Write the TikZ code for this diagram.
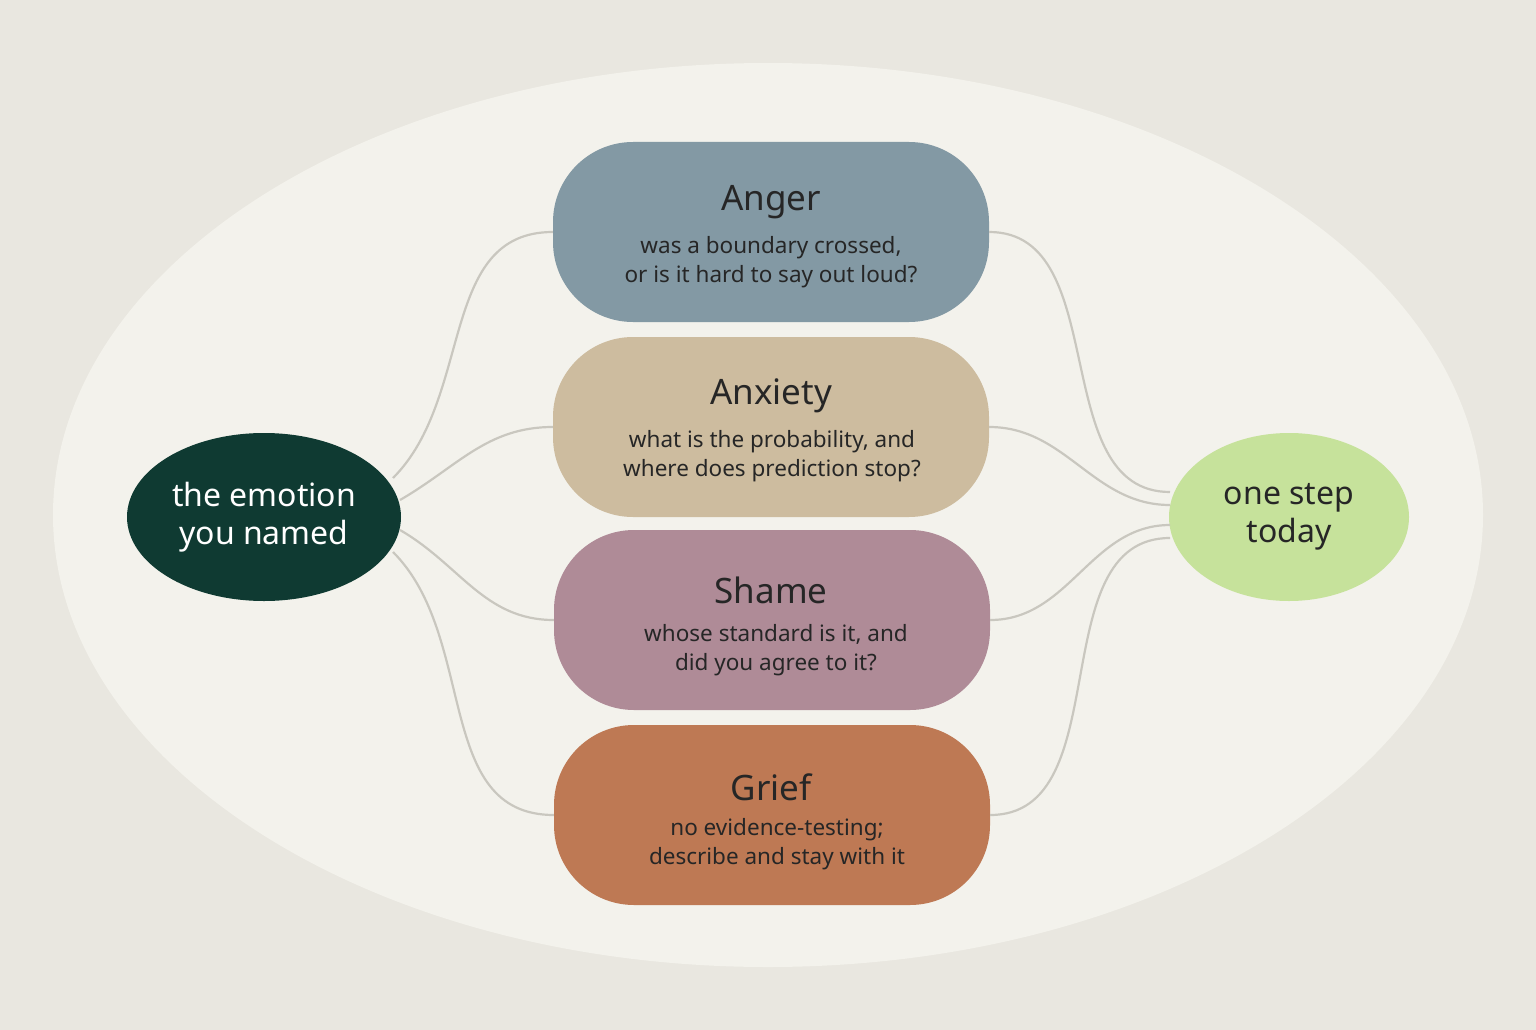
\documentclass[tikz,border=0pt]{standalone}
\usepackage{fontspec}
\setmainfont{Noto Sans}
\usetikzlibrary{shapes.geometric}
\definecolor{bg}{HTML}{E9E7E0}
\definecolor{oval}{HTML}{F3F2EC}
\definecolor{link}{HTML}{C9C7BF}
\definecolor{cAnger}{HTML}{8399A4}
\definecolor{cAnx}{HTML}{CDBC9F}
\definecolor{cShame}{HTML}{AF8B97}
\definecolor{cGrief}{HTML}{BE7954}
\definecolor{cLeft}{HTML}{0F3A32}
\definecolor{cRight}{HTML}{C6E29B}
\begin{document}
\begin{tikzpicture}[x=1pt,y=-1pt,
  pill/.style={rounded corners=80pt,minimum width=436pt,minimum height=180pt,inner sep=0pt},
  ttl/.style={font=\fontsize{35}{40}\selectfont,text=black!85},
  sub/.style={font=\fontsize{22.5}{29}\selectfont,align=center,text=black!85},
  link/.style={draw=link,line width=2.2pt}]
\fill[bg] (0,0) rectangle (1536,1030);
\useasboundingbox (0,0) rectangle (1536,1030);
\fill[oval] (768,515) ellipse [x radius=715pt,y radius=452pt];
\node[pill,fill=cAnger] (anger) at (771,232) {};
\node[pill,fill=cAnx] (anx) at (771,427) {};
\node[pill,fill=cShame] (shame) at (772,620) {};
\node[pill,fill=cGrief] (grief) at (772,815) {};
\node[ellipse,fill=cLeft,minimum width=274pt,minimum height=168pt,inner sep=0pt,text=white,align=center,font=\fontsize{32}{38}\selectfont] (left) at (264,517) {the emotion\\you named};
\node[ellipse,fill=cRight,minimum width=240pt,minimum height=168pt,inner sep=0pt,text=black!85,align=center,font=\fontsize{32}{38}\selectfont] (right) at (1289,517) {one step\\today};
\coordinate (l1) at (393,478); \coordinate (l2) at (400,500);
\coordinate (l3) at (400,530); \coordinate (l4) at (393,552);
\coordinate (r1) at (1170,492); \coordinate (r2) at (1170,505);
\coordinate (r3) at (1170,525); \coordinate (r4) at (1170,538);
\draw[link] (l1) to[out=45,in=180] (anger.west);
\draw[link] (l2) to[out=30,in=180] (anx.west);
\draw[link] (l3) to[out=-30,in=180] (shame.west);
\draw[link] (l4) to[out=-45,in=180] (grief.west);
\draw[link] (anger.east) to[out=0,in=180] (r1);
\draw[link] (anx.east) to[out=0,in=180] (r2);
\draw[link] (shame.east) to[out=0,in=180] (r3);
\draw[link] (grief.east) to[out=0,in=180] (r4);
\node[ttl] (t1) at (771,202) {Anger};
\node[sub] (s1) at (771,262) {was a boundary crossed,\\or is it hard to say out loud?};
\node[ttl] (t2) at (771,396) {Anxiety};
\node[sub] (s2) at (772,456) {what is the probability, and\\where does prediction stop?};
\node[ttl] (t3) at (771,590) {Shame};
\node[sub] (s3) at (776,650) {whose standard is it, and\\did you agree to it?};
\node[ttl] (t4) at (771,787) {Grief};
\node[sub] (s4) at (777,844) {no evidence-testing;\\describe and stay with it};
\end{tikzpicture}
\end{document}
